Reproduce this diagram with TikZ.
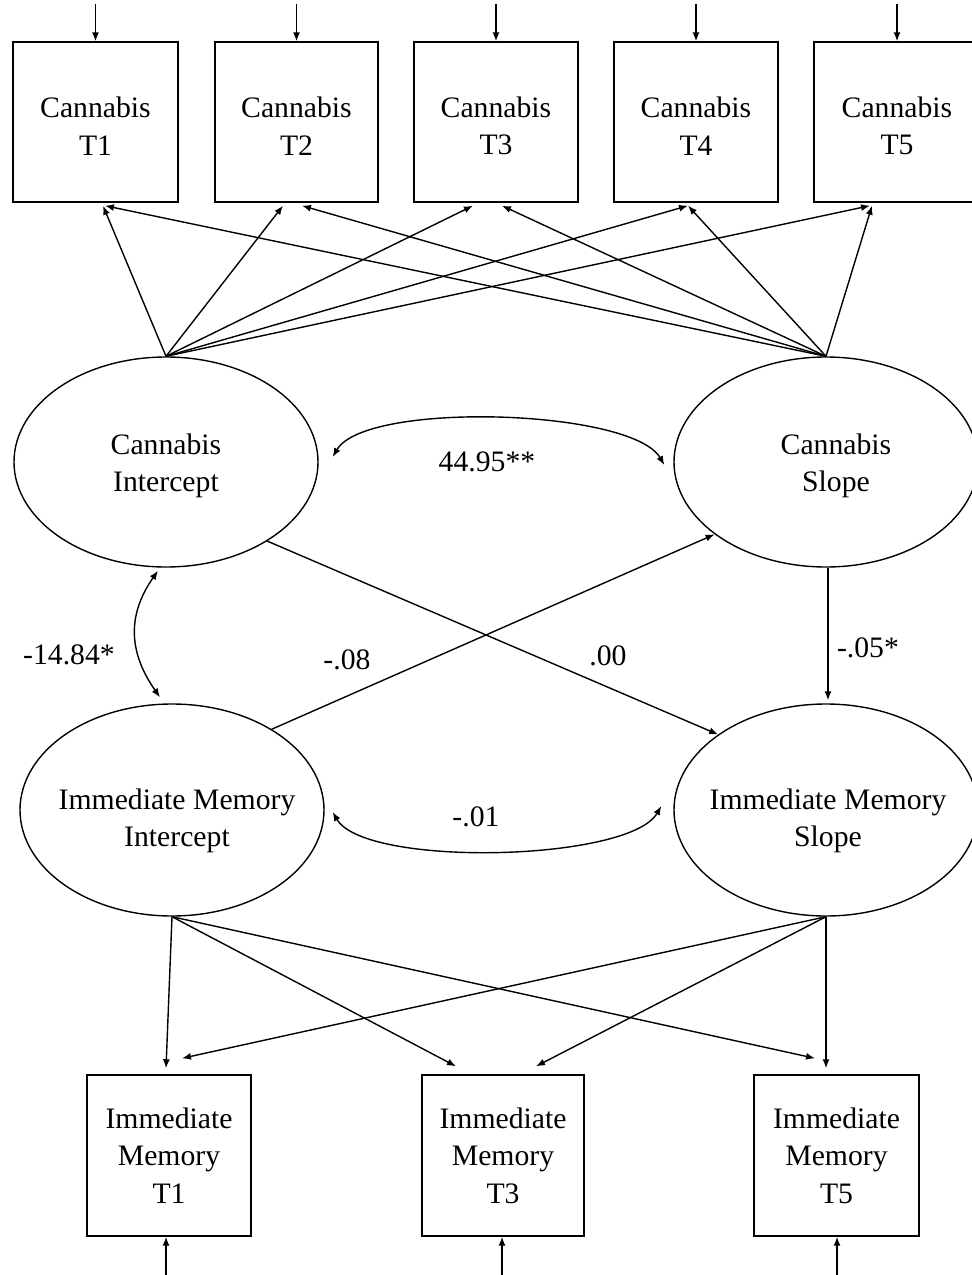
\documentclass[tikz,border=0pt]{standalone}
\usepackage{fontspec}
\setmainfont{Liberation Serif}
\usetikzlibrary{arrows.meta,shapes.geometric}
\begin{document}
\begin{tikzpicture}[x=1pt,y=1pt,
  font=\fontsize{29.7}{37.5}\selectfont,
  line width=1.4pt,
  >={Latex[length=9pt,width=7pt]},
  obsbox/.style={draw,rectangle,inner sep=0pt,minimum height=160pt},
  latent/.style={draw,ellipse,inner sep=0pt,minimum width=304pt,minimum height=210pt},
  estim/.style={inner sep=0pt}
]
\useasboundingbox (0,0) rectangle (972,-1275);
\clip (0,0) rectangle (972,-1275);

% observed cannabis measures
\node[obsbox,minimum width=165pt,label={[yshift=-4pt,align=center]center:Cannabis\\T1}] (c1) at (95.5,-122) {};
\node[obsbox,minimum width=163pt,label={[yshift=-4pt,align=center]center:Cannabis\\T2}] (c2) at (296.5,-122) {};
\node[obsbox,minimum width=164pt,label={[yshift=-4pt,align=center]center:Cannabis\\T3}] (c3) at (496,-122) {};
\node[obsbox,minimum width=164pt,label={[yshift=-4pt,align=center]center:Cannabis\\T4}] (c4) at (696,-122) {};
\node[obsbox,minimum width=166pt,label={[yshift=-4pt,align=center]center:Cannabis\\T5}] (c5) at (897,-122) {};

% residual arrows into the cannabis measures
\foreach \b in {c1,c2,c3,c4,c5}{
  \coordinate (e-\b) at ([yshift=37pt]\b.north);
  \draw[->] (e-\b) -- (\b);
}

% growth factors
\node[latent,label={[yshift=-4pt,align=center]center:Cannabis\\Intercept}] (ci) at (166,-462) {};
\node[latent,label={[xshift=10pt,yshift=-4pt,align=center]center:Cannabis\\Slope}] (cs) at (826,-462) {};
\node[latent,minimum height=212pt,label={[xshift=5pt,yshift=-11pt,align=center]center:Immediate Memory\\Intercept}] (mi) at (172,-810) {};
\node[latent,minimum height=212pt,label={[xshift=2pt,yshift=-11pt,align=center]center:Immediate Memory\\Slope}] (ms) at (826,-810) {};

% cannabis loadings
\foreach \b/\dx in {c1/7.5,c2/-13.5,c3/-23,c4/-8,c5/-27}
  \draw[->] (ci.north) -- ([xshift=\dx pt,yshift=-3pt]\b.south);
\foreach \b/\dx in {c1/9.5,c2/5.5,c3/6,c4/-8,c5/-25}
  \draw[->] (cs.north) -- ([xshift=\dx pt,yshift=-3pt]\b.south);

% observed memory measures
\node[obsbox,align=center,minimum width=164pt,minimum height=161pt] (m1) at (169,-1155.5) {Immediate\\Memory\\T1};
\node[obsbox,align=center,minimum width=162pt,minimum height=161pt] (m3) at (503,-1155.5) {Immediate\\Memory\\T3};
\node[obsbox,align=center,minimum width=165pt,minimum height=161pt] (m5) at (836.5,-1155.5) {Immediate\\Memory\\T5};

% memory loadings
\draw[->] (mi.south) -- ([xshift=-3pt,yshift=6pt]m1.north);
\draw[->] (mi.south) -- ([xshift=-47pt,yshift=8pt]m3.north);
\draw[->] (mi.south) -- ([xshift=-21.5pt,yshift=16pt]m5.north);
\draw[->] (ms.south) -- ([xshift=13pt,yshift=16pt]m1.north);
\draw[->] (ms.south) -- ([xshift=33pt,yshift=8pt]m3.north);
\draw[->] (ms.south) -- ([xshift=-10.5pt,yshift=6pt]m5.north);

% residual arrows into the memory measures
\coordinate (f-m1) at ([xshift=-3pt,yshift=-39pt]m1.south);
\coordinate (f-m3) at ([xshift=-1pt,yshift=-39pt]m3.south);
\coordinate (f-m5) at ([xshift=0.5pt,yshift=-39pt]m5.south);
\foreach \b in {m1,m3,m5}
  \draw[->] (f-\b) -- (f-\b |- \b.south);

% covariances
\draw[<->] ([xshift=14pt,yshift=5pt]ci.east) to[out=60,in=120,looseness=0.5] ([xshift=-9pt,yshift=-3pt]cs.west);
\draw[<->] ([xshift=8pt,yshift=-2pt]mi.east) to[out=-60,in=-120,looseness=0.5] ([xshift=-12pt,yshift=4pt]ms.west);
\draw[<->] ([xshift=-8pt,yshift=-3pt]ci.south) to[out=-125,in=125,looseness=1.1] ([xshift=-12pt,yshift=6pt]mi.north);

% regressions between processes
\draw[->] (ci.-38) -- (ms.145);
\draw[->] (mi.39) -- (cs.213);
\draw[->] ([xshift=2pt]cs.south) -- ([xshift=2pt,yshift=3pt]ms.north);

% estimates
\node[estim] (v1) at (487,-462) {44.95**};
\node[estim] (v2) at (476,-817) {-.01};
\node[estim] (v3) at (69,-655) {-14.84*};
\node[estim] (v4) at (347,-660) {-.08};
\node[estim] (v5) at (608,-656) {.00};
\node[estim] (v6) at (868,-648) {-.05*};
\end{tikzpicture}
\end{document}
